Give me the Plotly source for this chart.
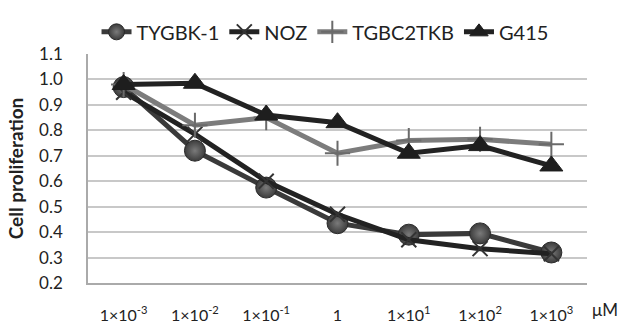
import plotly.graph_objects as go

categories = ["1e-3", "1e-2", "1e-1", "1", "1e1", "1e2", "1e3"]
tick_labels = ["1\u00d710<sup>-3</sup>", "1\u00d710<sup>-2</sup>", "1\u00d710<sup>-1</sup>", "1",
               "1\u00d710<sup>1</sup>", "1\u00d710<sup>2</sup>", "1\u00d710<sup>3</sup>"]
tygbk1 = [0.97, 0.72, 0.575, 0.435, 0.39, 0.395, 0.32]
noz = [0.95, 0.785, 0.60, 0.47, 0.37, 0.335, 0.315]
tgbc2tkb = [0.98, 0.82, 0.85, 0.71, 0.76, 0.765, 0.745]
g415 = [0.98, 0.985, 0.86, 0.83, 0.71, 0.74, 0.66]

xpos = list(range(len(categories)))
FONT = "Lato"

fig = go.Figure()
fig.add_trace(go.Scatter(
    x=xpos, y=tygbk1, name="TYGBK-1", mode="lines+markers",
    line=dict(color="#3a3a3a", width=5),
    marker=dict(symbol="circle", size=21, color="#3c3c3c",
                gradient=dict(type="radial", color="#7a7a7a"),
                line=dict(color="#2a2a2a", width=1))))
fig.add_trace(go.Scatter(
    x=xpos, y=noz, name="NOZ", mode="lines+markers",
    line=dict(color="#222222", width=5),
    marker=dict(symbol="x-thin", size=15, color="#333333",
                line=dict(color="#333333", width=2))))
fig.add_trace(go.Scatter(
    x=xpos, y=tgbc2tkb, name="TGBC2TKB", mode="lines+markers",
    line=dict(color="#7c7c7c", width=5),
    marker=dict(symbol="cross-thin", size=18, color="#6a6a6a",
                line=dict(color="#6a6a6a", width=2))))
fig.add_trace(go.Scatter(
    x=xpos, y=g415, name="G415", mode="lines+markers",
    line=dict(color="#222222", width=5),
    marker=dict(symbol="triangle-up", size=20, color="#1e1e1e",
                line=dict(color="#1e1e1e", width=1))))

fig.add_annotation(text="\u03bcM", xref="paper", yref="paper",
                   x=(605 - 88) / 499, y=-(321 - 292) / 248,
                   showarrow=False, font=dict(family=FONT, size=17, color="#222"),
                   xanchor="center", yanchor="middle")

fig.update_layout(
    width=622, height=336,
    margin=dict(l=88, r=35, t=44, b=44),
    paper_bgcolor="white", plot_bgcolor="white",
    font=dict(family=FONT, color="#222222"),
    showlegend=True,
    legend=dict(orientation="h", x=0.475, xanchor="center",
                y=1 + (44 - 20) / 248, yanchor="middle",
                font=dict(family=FONT, size=20, color="#222"),
                itemwidth=30, bgcolor="rgba(0,0,0,0)"),
    xaxis=dict(range=[-0.5, 6.5], tickmode="array", tickvals=xpos, ticktext=tick_labels,
               showgrid=False, showline=True, linecolor="#aaaaaa", linewidth=1.5,
               ticks="", tickfont=dict(family=FONT, size=16, color="#222"),
               ticklabelstandoff=17, zeroline=False),
    yaxis=dict(range=[0.2, 1.1], dtick=0.1, tick0=0.2, tickformat=".1f",
               showgrid=True, gridcolor="#c8c8c8", gridwidth=1.5,
               showline=True, linecolor="#aaaaaa", linewidth=1.5, mirror=False,
               ticks="", tickfont=dict(family=FONT, size=17, color="#222"),
               ticklabelstandoff=20, zeroline=False,
               title=dict(text="<b>Cell proliferation</b>", font=dict(family=FONT, size=19, color="#222"),
                          standoff=10)),
)

fig.write_html("out.html")
